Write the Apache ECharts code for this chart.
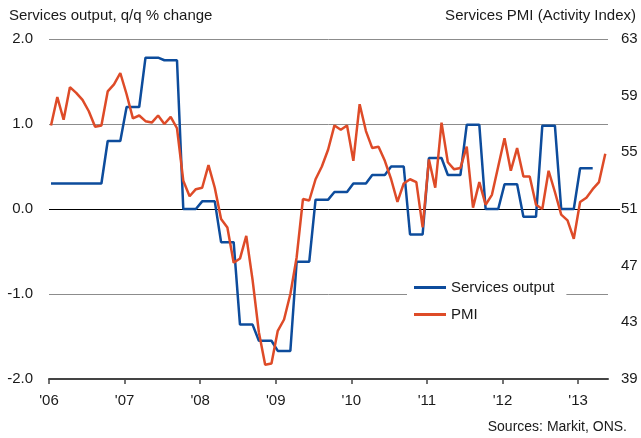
<!DOCTYPE html>
<html>
<head>
<meta charset="utf-8">
<script src="https://cdn.jsdelivr.net/npm/echarts@6/dist/echarts.min.js"></script>
<style>
html,body{margin:0;padding:0;background:#fff;}
#chart{width:641px;height:438px;}
</style>
</head>
<body>
<div id="chart"></div>
<script>
// Year tick labels (January of each year, months counted from Jan 2006)
var yearLabels = ["'06", "'07", "'08", "'09", "'10", "'11", "'12", "'13"];

// Services PMI (Activity Index), monthly Jan 2006 - May 2013 (right axis)
var pmi = [
  56.9, 58.9, 57.3, 59.6, 59.2, 58.7, 57.9, 56.8, 56.9, 59.3, 59.8, 60.6,  // 2006
  59.1, 57.4, 57.6, 57.2, 57.1, 57.6, 57.0, 57.5, 56.7, 53.0, 51.9, 52.4,  // 2007
  52.5, 54.1, 52.5, 50.3, 49.7, 47.2, 47.5, 49.1, 46.0, 42.3, 40.0, 40.1,  // 2008
  42.4, 43.2, 45.0, 47.6, 51.7, 51.6, 53.1, 54.0, 55.2, 56.9, 56.6, 56.9,  // 2009
  54.4, 58.4, 56.5, 55.3, 55.4, 54.4, 53.1, 51.5, 52.8, 53.1, 52.9, 49.7,  // 2010
  54.5, 52.5, 57.1, 54.3, 53.8, 53.9, 55.4, 51.1, 52.9, 51.3, 52.0, 54.0,  // 2011
  56.0, 53.7, 55.3, 53.3, 53.3, 51.3, 51.0, 53.7, 52.2, 50.6, 50.2, 48.9,  // 2012
  51.5, 51.8, 52.4, 52.9, 54.9                                             // 2013
];

// Services output, q/q % change, monthly Jan 2006 - May 2013 (left axis)
var servicesOutput = [
  0.30, 0.30, 0.30, 0.30, 0.30, 0.30, 0.30, 0.30, 0.30, 0.80, 0.80, 0.80,          // 2006
  1.20, 1.20, 1.20, 1.78, 1.78, 1.78, 1.75, 1.75, 1.75, 0.00, 0.00, 0.00,          // 2007
  0.09, 0.09, 0.09, -0.39, -0.39, -0.39, -1.36, -1.36, -1.36, -1.55, -1.55, -1.55, // 2008
  -1.67, -1.67, -1.67, -0.62, -0.62, -0.62, 0.11, 0.11, 0.11, 0.20, 0.20, 0.20,    // 2009
  0.30, 0.30, 0.30, 0.40, 0.40, 0.40, 0.50, 0.50, 0.50, -0.30, -0.30, -0.30,       // 2010
  0.60, 0.60, 0.60, 0.40, 0.40, 0.40, 0.99, 0.99, 0.99, 0.00, 0.00, 0.00,          // 2011
  0.29, 0.29, 0.29, -0.09, -0.09, -0.09, 0.98, 0.98, 0.98, 0.00, 0.00, 0.00,       // 2012
  0.48, 0.48, 0.48, null, null                                                     // 2013
];

var monthOffset = 0.32; // points sit inside their month
function toPairs(arr) {
  return arr.map(function (v, i) { return [i + monthOffset, v]; });
}
var yearTickValues = yearLabels.map(function (_, i) { return i * 12; });

var font = "'Liberation Sans', Arial, sans-serif";
var textColor = '#1a1a1a';
var chart = echarts.init(document.getElementById('chart'), null, {renderer: 'canvas'});
chart.setOption({
  animation: false,
  backgroundColor: '#fff',
  textStyle: {fontFamily: font},
  title: [
    {text: 'Services output, q/q % change', left: 9, top: 8, padding: 0,
     textStyle: {fontSize: 15, fontWeight: 'normal', color: textColor, fontFamily: font}},
    {text: 'Services PMI (Activity Index)', right: 5, top: 8, padding: 0,
     textStyle: {fontSize: 15, fontWeight: 'normal', color: textColor, fontFamily: font}},
    {text: 'Sources: Markit, ONS.', right: 14, top: 420, padding: 0,
     textStyle: {fontSize: 14, fontWeight: 'normal', color: textColor, fontFamily: font}}
  ],
  legend: {
    orient: 'vertical',
    left: 407,
    top: 276,
    padding: [4, 12, 4, 7],
    backgroundColor: '#fff',
    icon: 'rect',
    itemWidth: 32,
    itemHeight: 3,
    itemGap: 12,
    textStyle: {fontSize: 15, color: textColor, fontFamily: font},
    data: ['Services output', 'PMI']
  },
  grid: {left: 49, right: 33, top: 39, bottom: 59, containLabel: false},
  xAxis: {
    type: 'value',
    min: 0,
    max: 88.75,
    splitLine: {show: false},
    axisLine: {show: true, onZero: false, lineStyle: {color: '#444', width: 2}},
    axisTick: {show: true, length: 5, customValues: yearTickValues, lineStyle: {color: '#444', width: 1.5}},
    axisLabel: {
      customValues: yearTickValues,
      margin: 14,
      fontSize: 15,
      color: textColor,
      fontFamily: font,
      formatter: function (v) { return yearLabels[Math.round(v / 12)]; }
    }
  },
  yAxis: [
    {
      type: 'value',
      min: -2,
      max: 2,
      interval: 1,
      axisLine: {show: false},
      axisTick: {show: false},
      axisLabel: {
        margin: 16, fontSize: 15, color: textColor, fontFamily: font,
        formatter: function (v) { return v.toFixed(1); }
      },
      splitLine: {show: true, lineStyle: {color: ['#8c8c8c', '#8c8c8c', '#000', '#8c8c8c', '#8c8c8c'], width: 1}}
    },
    {
      type: 'value',
      position: 'right',
      min: 39,
      max: 63,
      interval: 4,
      axisLine: {show: false},
      axisTick: {show: true, length: 12, customValues: [51], lineStyle: {color: '#000', width: 1}},
      axisLabel: {margin: 13, fontSize: 15, color: textColor, fontFamily: font},
      splitLine: {show: false}
    }
  ],
  series: [
    {
      name: 'Services output',
      type: 'line',
      yAxisIndex: 0,
      data: toPairs(servicesOutput),
      showSymbol: false,
      symbol: 'none',
      connectNulls: false,
      lineStyle: {color: '#0d4c9c', width: 2.5},
      itemStyle: {color: '#0d4c9c'},
      z: 3
    },
    {
      name: 'PMI',
      type: 'line',
      yAxisIndex: 1,
      data: toPairs(pmi),
      showSymbol: false,
      symbol: 'none',
      lineStyle: {color: '#de4b28', width: 2.5},
      itemStyle: {color: '#de4b28'},
      z: 4
    }
  ]
});
</script>
</body>
</html>
